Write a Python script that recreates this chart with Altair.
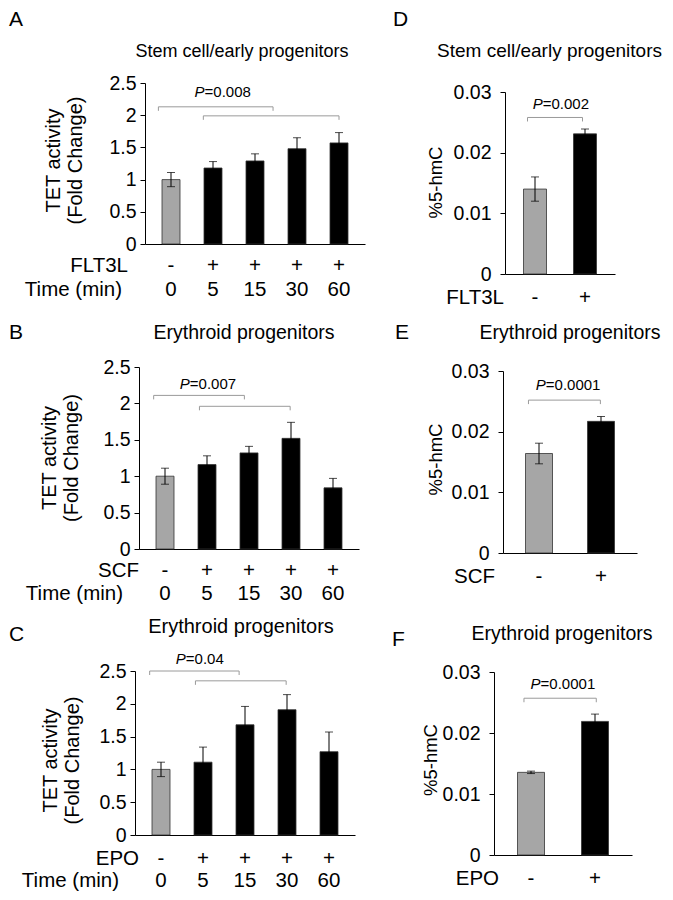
import altair as alt
import pandas as pd

FONT = "Liberation Sans"

# ---------------- data ----------------
# Panel A  (TET activity, FLT3L)
a_treat = ["-", "+", "+", "+", "+"]
a_time = ["0", "5", "15", "30", "60"]
a_mean = [1.00, 1.18, 1.29, 1.48, 1.57]
a_err = [0.11, 0.10, 0.11, 0.17, 0.16]
a_brk_x1 = [-0.30, 0.77]
a_brk_x2 = [2.43, 4.00]
a_brk_y = [2.13, 1.99]
a_p_text = "=0.008"
a_p_x, a_p_y = 0.80, 2.29

# Panel B  (TET activity, SCF)
b_treat = ["-", "+", "+", "+", "+"]
b_time = ["0", "5", "15", "30", "60"]
b_mean = [1.00, 1.16, 1.32, 1.52, 0.84]
b_err = [0.11, 0.12, 0.09, 0.22, 0.13]
b_brk_x1 = [-0.27, 0.82]
b_brk_x2 = [1.89, 2.98]
b_brk_y = [2.11, 1.96]
b_p_text = "=0.007"
b_p_x, b_p_y = 0.59, 2.20

# Panel C  (TET activity, EPO)
c_treat = ["-", "+", "+", "+", "+"]
c_time = ["0", "5", "15", "30", "60"]
c_mean = [1.00, 1.11, 1.68, 1.91, 1.27]
c_err = [0.11, 0.23, 0.28, 0.23, 0.30]
c_brk_x1 = [-0.27, 0.82]
c_brk_x2 = [1.86, 2.98]
c_brk_y = [2.50, 2.35]
c_p_text = "=0.04"
c_p_x, c_p_y = 0.59, 2.60

# Panel D  (%5-hmC, FLT3L)
d_treat = ["-", "+"]
d_mean = [0.0140, 0.0231]
d_err = [0.0020, 0.0008]
d_brk_x1 = [-0.15]
d_brk_x2 = [0.95]
d_brk_y = [0.0258]
d_p_text = "=0.002"
d_p_x, d_p_y = 0.155, 0.0272

# Panel E  (%5-hmC, SCF)
e_treat = ["-", "+"]
e_mean = [0.0164, 0.0217]
e_err = [0.0017, 0.0008]
e_brk_x1 = [-0.17]
e_brk_x2 = [0.99]
e_brk_y = [0.0252]
e_p_text = "=0.0001"
e_p_x, e_p_y = 0.11, 0.0269

# Panel F  (%5-hmC, EPO)
f_treat = ["-", "+"]
f_mean = [0.01355, 0.0219]
f_err = [0.0002, 0.0012]
f_brk_x1 = [-0.11]
f_brk_x2 = [1.02]
f_brk_y = [0.0257]
f_p_text = "=0.0001"
f_p_x, f_p_y = 0.15, 0.0272

left_ticks = [0, 0.5, 1, 1.5, 2, 2.5]
right_ticks = [0, 0.01, 0.02, 0.03]
tet_title = ["TET activity", "(Fold Change)"]
hmc_title = "%5-hmC"
title_stem = "Stem cell/early progenitors"
title_ery = "Erythroid progenitors"
time_header = "Time (min)"

# ---------------- styles / layout ----------------
GRAY = "#a6a6a6"
BRACKET = "#9a9a9a"
TXT = "#000000"
ROWFS = 20.5


def panel(d, L):
    n = len(d["mean"])
    rows = {
        "pos": list(range(n)),
        "mean": d["mean"],
        "lo": [m - e for m, e in zip(d["mean"], d["err"])],
        "hi": [m + e for m, e in zip(d["mean"], d["err"])],
        "grp": ["ctrl"] + ["treat"] * (n - 1),
        "treat": d["treat"],
    }
    if d.get("time"):
        rows["time"] = d["time"]
    df = pd.DataFrame(rows)

    xs = alt.Scale(domain=[-0.5, n - 0.5], nice=False, zero=False)
    ys = alt.Scale(domain=[0, L["ymax"]], nice=False, zero=True)
    yaxis = alt.Axis(
        values=L["ticks"], format="~g", grid=False, title=L["ytitle"],
        labelFontSize=19.5, labelFont=FONT, labelColor=TXT, labelPadding=L["lpad"],
        tickSize=5, tickColor=TXT, domainColor=TXT, domainWidth=1,
        titleFontSize=L["ytfs"], titleFont=FONT, titleFontWeight="normal",
        titleColor=TXT, titleX=L["ytx"], titleY=L["yty"], titleAngle=270,
        titleBaseline="middle", titleAlign="center", titleLineHeight=22,
    )
    xaxis = alt.Axis(labels=False, ticks=False, title=None, grid=False,
                     domainColor=TXT, domainWidth=1.2)

    def X(f):
        return alt.X(f, type="quantitative", scale=xs, axis=xaxis)

    def Y(f):
        return alt.Y(f, type="quantitative", scale=ys, axis=yaxis)

    base = alt.Chart(df)
    bars = base.mark_bar(size=L["bw"], orient="vertical", stroke="#333333",
                         strokeWidth=0.8).encode(
        x=X("pos"), y=Y("mean"),
        color=alt.Color("grp:N", scale=alt.Scale(domain=["ctrl", "treat"],
                                                 range=[GRAY, "#000000"]),
                        legend=None),
    )
    err = base.mark_rule(color="#000000", strokeWidth=1).encode(
        x=X("pos"), y=Y("lo"), y2="hi")
    caps = base.transform_fold(["lo", "hi"], as_=["k", "v"]).mark_tick(
        orient="horizontal", size=8, thickness=1, color="#000000").encode(
        x=X("pos"), y=Y("v:Q"))

    bdf = pd.DataFrame({"x1": d["bx1"], "x2": d["bx2"], "y": d["by"]})
    hline = alt.Chart(bdf).mark_rule(color=BRACKET, strokeWidth=1).encode(
        x=X("x1"), x2="x2", y=Y("y"))
    ends = alt.Chart(bdf).transform_fold(["x1", "x2"], as_=["e", "xe"]) \
        .transform_calculate(yd=f"datum.y - {L['drop']}") \
        .mark_rule(color=BRACKET, strokeWidth=1).encode(
        x=X("xe:Q"), y=Y("y"), y2="yd:Q")

    pdf = pd.DataFrame({"x": [d["px"]], "y": [d["py"]], "t": [d["pt"]]})
    p_it = alt.Chart(pdf).mark_text(text="P", fontStyle="italic", align="right",
                                    baseline="alphabetic", fontSize=15,
                                    font=FONT, color=TXT).encode(
        x=X("x"), y=Y("y"))
    p_rest = alt.Chart(pdf).mark_text(align="left", baseline="alphabetic",
                                      fontSize=15, font=FONT, color=TXT).encode(
        x=X("x"), y=Y("y"), text="t:N")

    row1 = base.mark_text(fontSize=ROWFS, font=FONT, color=TXT,
                          baseline="alphabetic").encode(
        x=X("pos"), y=alt.value(L["row1"]), text="treat:N")
    layers = [bars, err, caps, hline, ends, p_it, p_rest, row1]

    hdr_t = [d["agent"]]
    hdr_x = [L["hx1"]]
    hdr_y = [L["row1"]]
    if d.get("time"):
        layers.append(base.mark_text(fontSize=ROWFS, font=FONT, color=TXT,
                                     baseline="alphabetic").encode(
            x=X("pos"), y=alt.value(L["row2"]), text="time:N"))
        hdr_t.append(time_header)
        hdr_x.append(L["hx2"])
        hdr_y.append(L["row2"])
    for t, hx, hy in zip(hdr_t, hdr_x, hdr_y):
        layers.append(alt.Chart(pd.DataFrame({"t": [t]})).mark_text(
            align="right", baseline="alphabetic", fontSize=ROWFS, font=FONT,
            color=TXT).encode(x=alt.value(hx), y=alt.value(hy), text="t:N"))

    layers.append(alt.Chart(pd.DataFrame({"t": [d["letter"]]})).mark_text(
        align="left", baseline="alphabetic", fontSize=21, font=FONT,
        color=TXT).encode(x=alt.value(L["lx"]), y=alt.value(L["ly"]),
                          text="t:N"))
    layers.append(alt.Chart(pd.DataFrame({"t": [d["title"]]})).mark_text(
        align="center", baseline="alphabetic", fontSize=L["tfs"], font=FONT,
        color=TXT).encode(x=alt.value(L["tx"]), y=alt.value(L["ty"]),
                          text="t:N"))
    # invisible frame that fixes the panel's bounding box for the layout
    fx1, fx2, fy1, fy2 = L["frame"]
    layers.append(alt.Chart(pd.DataFrame({"t": [0]})).mark_rect(
        opacity=0).encode(x=alt.value(fx1), x2=alt.value(fx2),
                          y=alt.value(fy1), y2=alt.value(fy2)))

    return alt.layer(*layers).properties(width=L["w"], height=L["h"])


def pack(letter, title, agent, treat, mean, err, bx1, bx2, by, pt, px, py, time=None):
    return dict(letter=letter, title=title, agent=agent, treat=treat, mean=mean,
                err=err, bx1=bx1, bx2=bx2, by=by, pt=pt, px=px, py=py, time=time)


def spacer():
    return alt.Chart(pd.DataFrame({"t": [0]})).mark_rect(opacity=0).encode(
        x=alt.value(0), x2=alt.value(1), y=alt.value(0), y2=alt.value(1)
    ).properties(width=1, height=1)


LEFT = dict(ymax=2.5, ticks=left_ticks, ytitle=tet_title, ytfs=20, lpad=4, bw=18, w=220)
RIGHT = dict(ymax=0.03, ticks=right_ticks, ytitle=hmc_title, ytfs=18.5, lpad=9)

A = panel(pack("A", title_stem, "FLT3L", a_treat, a_mean, a_err, a_brk_x1, a_brk_x2,
               a_brk_y, a_p_text, a_p_x, a_p_y, a_time),
          dict(LEFT, h=161, ytx=-92, yty=77, drop=0.062, lx=-136, ly=-57,
               tx=97, ty=-26, tfs=18, row1=188.7, row2=212.7, hx1=-17, hx2=-23,
               frame=(-136, 234, -74, 229)))
B = panel(pack("B", title_ery, "SCF", b_treat, b_mean, b_err, b_brk_x1, b_brk_x2,
               b_brk_y, b_p_text, b_p_x, b_p_y, b_time),
          dict(LEFT, h=182, ytx=-90, yty=90.5, drop=0.055, lx=-130, ly=-28,
               tx=105, ty=-28, tfs=19.5, row1=210, row2=233, hx1=0, hx2=-16,
               frame=(-130, 240, -55, 241)))
C = panel(pack("C", title_ery, "EPO", c_treat, c_mean, c_err, c_brk_x1, c_brk_x2,
               c_brk_y, c_p_text, c_p_x, c_p_y, c_time),
          dict(LEFT, h=164, ytx=-84.5, yty=89, drop=0.061, lx=-126, ly=-30.3,
               tx=106, ty=-38.3, tfs=20, row1=193.7, row2=215.5, hx1=4, hx2=-16,
               frame=(-126, 244, -63, 220)))
D = panel(pack("D", title_stem, "FLT3L", d_treat, d_mean, d_err, d_brk_x1, d_brk_x2,
               d_brk_y, d_p_text, d_p_x, d_p_y),
          dict(RIGHT, w=110, h=182, bw=23, ytx=-70, yty=90, drop=0.00066,
               lx=-112, ly=-66, tx=44.5, ty=-35, tfs=19, row1=211.5, hx1=-1,
               frame=(-125, 158, -83, 220)))
E = panel(pack("E", title_ery, "SCF", e_treat, e_mean, e_err, e_brk_x1, e_brk_x2,
               e_brk_y, e_p_text, e_p_x, e_p_y),
          dict(RIGHT, w=134, h=182, bw=27, ytx=-67.5, yty=88, drop=0.00066,
               lx=-108, ly=-32, tx=67, ty=-32, tfs=19.5, row1=212, hx1=-8,
               frame=(-123, 160, -59, 237)))
F = panel(pack("F", title_ery, "EPO", f_treat, f_mean, f_err, f_brk_x1, f_brk_x2,
               f_brk_y, f_p_text, f_p_x, f_p_y),
          dict(RIGHT, w=138, h=183, bw=27, ytx=-63.5, yty=87.5, drop=0.00066,
               lx=-102, ly=-26, tx=68, ty=-32, tfs=19.5, row1=212.5, hx1=5,
               frame=(-114, 169, -64, 219)))


def column(panels):
    rows = [alt.hconcat(spacer(), p, spacing=0) for p in panels]
    return alt.vconcat(spacer(), *rows, spacing=0)


chart = alt.hconcat(column([A, B, C]), column([D, E, F]), spacing=0).properties(
    padding=0, background="white"
).configure(font=FONT).configure_view(stroke=None)

chart.save("out.html", embed_options={"renderer": "svg", "actions": False})
